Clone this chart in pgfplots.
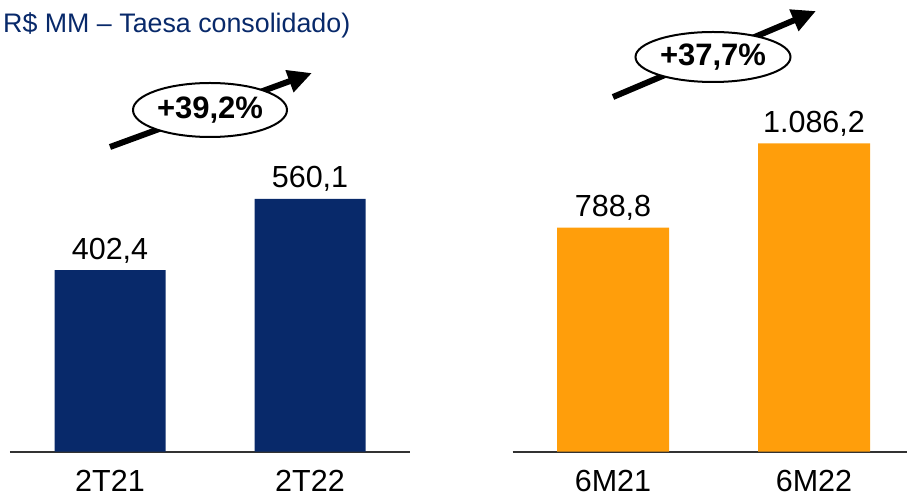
\documentclass[border=0pt]{standalone}
\usepackage{fontspec}
\setmainfont{Liberation Sans}
\usepackage{pgfplots}
\pgfplotsset{compat=1.18}
\usetikzlibrary{arrows.meta,shapes.geometric}
\definecolor{navy}{RGB}{8,41,106}
\definecolor{orng}{RGB}{255,158,11}
\definecolor{basel}{RGB}{50,50,50}
\newcommand{\bigf}{\fontsize{30.5}{36}\selectfont}
\begin{document}
\begin{tikzpicture}
\path[use as bounding box] (0pt,0pt) rectangle (907pt,498pt);
\pgfplotsset{
  barstyle/.style={
    scale only axis,
    anchor=south west,
    xmin=-0.5, xmax=1.5, ymin=0,
    hide y axis,
    axis x line*=bottom,
    x axis line style={line width=2pt, color=basel},
    xtick={0,1},
    xtick style={draw=none},
    xticklabel style={font=\bigf, anchor=base, yshift=-35.5pt, inner sep=0pt},
    clip=false,
    ybar,
    point meta=explicit symbolic,
    nodes near coords,
    nodes near coords style={font=\bigf, anchor=base, yshift=11pt, inner sep=0pt, text=black},
  }
}
\begin{axis}[barstyle, at={(10pt,46.5pt)}, width=400pt, height=360.8pt, ymax=800,
  xticklabels={2T21,2T22}, bar width=111pt]
\addplot[fill=navy, draw=none] coordinates {(0,402.4) [{402,4}] (1,560.1) [{560,1}]};
\end{axis}
\begin{axis}[barstyle, at={(512.5pt,46.5pt)}, width=402pt, height=397.3pt, ymax=1400,
  xticklabels={6M21,6M22}, bar width=112pt]
\addplot[fill=orng, draw=none] coordinates {(0,788.8) [{788,8}] (1,1086.2) [{1.086,2}]};
\end{axis}
% subtitle
\node[anchor=base west, inner sep=0pt, text=navy, font=\fontsize{26.8}{30}\selectfont] at (3pt,465pt) {R\$ MM -- Taesa consolidado)};
% growth arrows
\draw[line width=6pt, -{Triangle[length=24pt,width=22pt]}] (110pt,351pt) -- (312pt,425pt);
\node[draw, ellipse, line width=2pt, fill=white, minimum width=154pt, minimum height=54pt, inner sep=0pt, font=\fontsize{31}{36}\selectfont\bfseries] at (210pt,388pt) {+39,2\%};
\draw[line width=6pt, -{Triangle[length=24pt,width=22pt]}] (613pt,401pt) -- (816pt,487pt);
\node[draw, ellipse, line width=2pt, fill=white, minimum width=155pt, minimum height=50pt, inner sep=0pt, font=\fontsize{31}{36}\selectfont\bfseries] at (713pt,441pt) {+37,7\%};
\end{tikzpicture}
\end{document}
